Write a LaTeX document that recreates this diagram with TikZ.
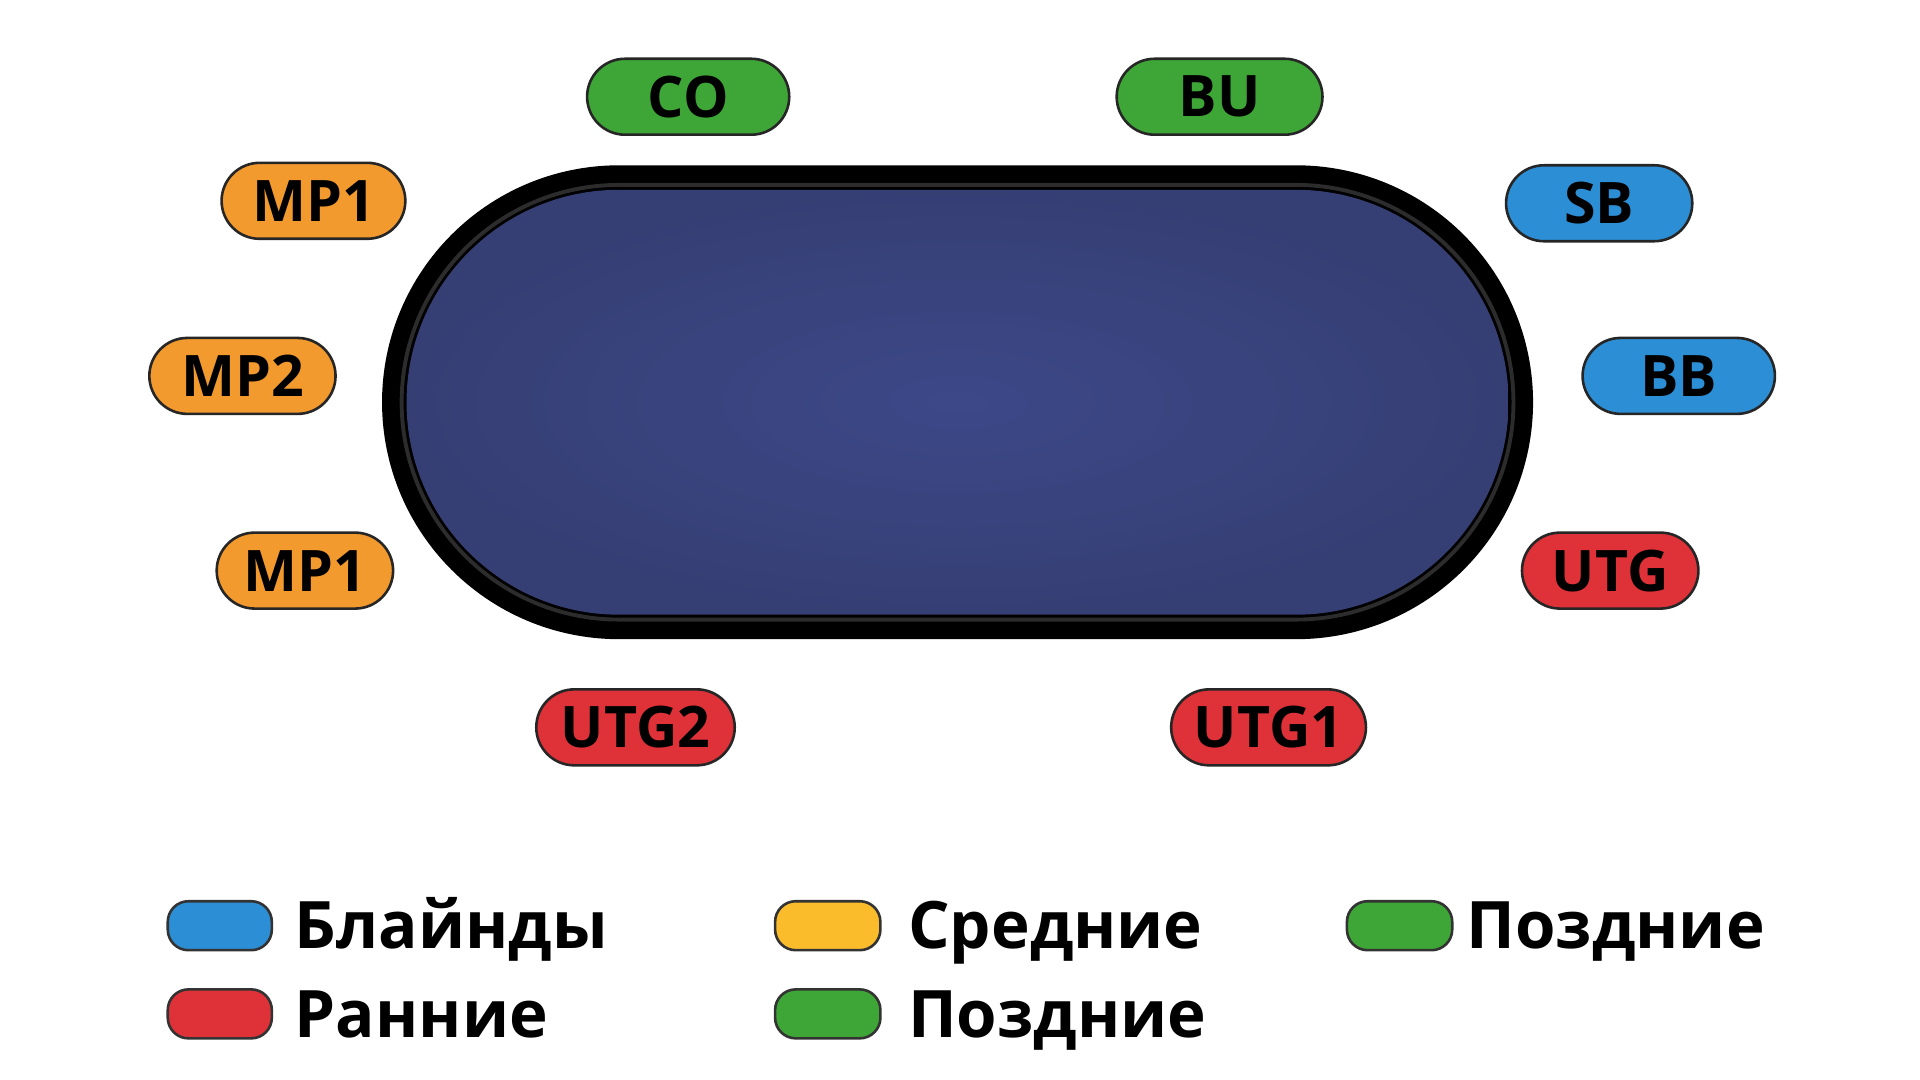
\documentclass[tikz,border=0pt]{standalone}
\usepackage{fontspec}
\setmainfont{Open Sans}
\usetikzlibrary{shapes.misc}
\definecolor{pOrange}{HTML}{F39A2E}
\definecolor{pBlue}{HTML}{2C8ED4}
\definecolor{pRed}{HTML}{DF3238}
\definecolor{pGreen}{HTML}{3EA636}
\definecolor{pYellow}{HTML}{FBBC2C}
\definecolor{feltIn}{HTML}{3C4888}
\definecolor{feltOut}{HTML}{363F74}
\definecolor{rimGray}{HTML}{2C2C2C}
\tikzset{
  pill/.style={rounded rectangle, draw=black!85, line width=0.6pt, fill=#1,
    minimum height=62*0.2845pt, inner sep=0pt,
    font=\fontsize{13.3}{15}\selectfont\bfseries, text=black},
  swatch/.style={draw=black!80, line width=0.6pt, fill=#1, rounded corners=4.8pt},
  legtext/.style={anchor=base west, inner sep=0pt,
    font=\fontsize{15.2}{18}\selectfont\bfseries, text=black}
}
\begin{document}
\begin{tikzpicture}[x=0.01cm,y=-0.01cm]
\useasboundingbox[fill=white] (0,0) rectangle (1568,882);
% table
\fill[black, rounded corners=1.935cm] (312,135) rectangle (1252,522);
\draw[rimGray, line width=0.9pt, rounded corners=1.775cm] (328,151) rectangle (1236,506);
\shade[inner color=feltIn, outer color=feltOut, rounded corners=1.735cm] (332,155) rectangle (1232,502);
% seats
\node[pill=pGreen, minimum width=165*0.2845pt] (co) at (562,79) {CO};
\node[pill=pGreen, minimum width=168*0.2845pt] (bu) at (996,79) {BU};
\node[pill=pOrange, minimum width=150*0.2845pt] (mp1a) at (256,164) {MP1};
\node[pill=pBlue, minimum width=152*0.2845pt] (sb) at (1306,166) {SB};
\node[pill=pOrange, minimum width=152*0.2845pt] (mp2) at (198,307) {MP2};
\node[pill=pBlue, minimum width=157*0.2845pt] (bb) at (1371,307) {BB};
\node[pill=pOrange, minimum width=144*0.2845pt] (mp1b) at (249,466) {MP1};
\node[pill=pRed, minimum width=144*0.2845pt] (utg) at (1315,466) {UTG};
\node[pill=pRed, minimum width=162*0.2845pt] (utg2) at (519,594) {UTG2};
\node[pill=pRed, minimum width=159*0.2845pt] (utg1) at (1036,594) {UTG1};
% legend
\draw[swatch=pBlue] (137,736) rectangle (222,776);
\node[legtext] (l1) at (240,775) {Блайнды};
\draw[swatch=pRed] (137,808) rectangle (222,848);
\node[legtext] (l2) at (240,847) {Ранние};
\draw[swatch=pYellow] (633,736) rectangle (719,776);
\node[legtext] (l3) at (741,775) {Средние};
\draw[swatch=pGreen] (633,808) rectangle (719,848);
\node[legtext] (l4) at (741,847) {Поздние};
\draw[swatch=pGreen] (1100,736) rectangle (1186,776);
\node[legtext] (l5) at (1197,775) {Поздние};
\end{tikzpicture}
\end{document}
